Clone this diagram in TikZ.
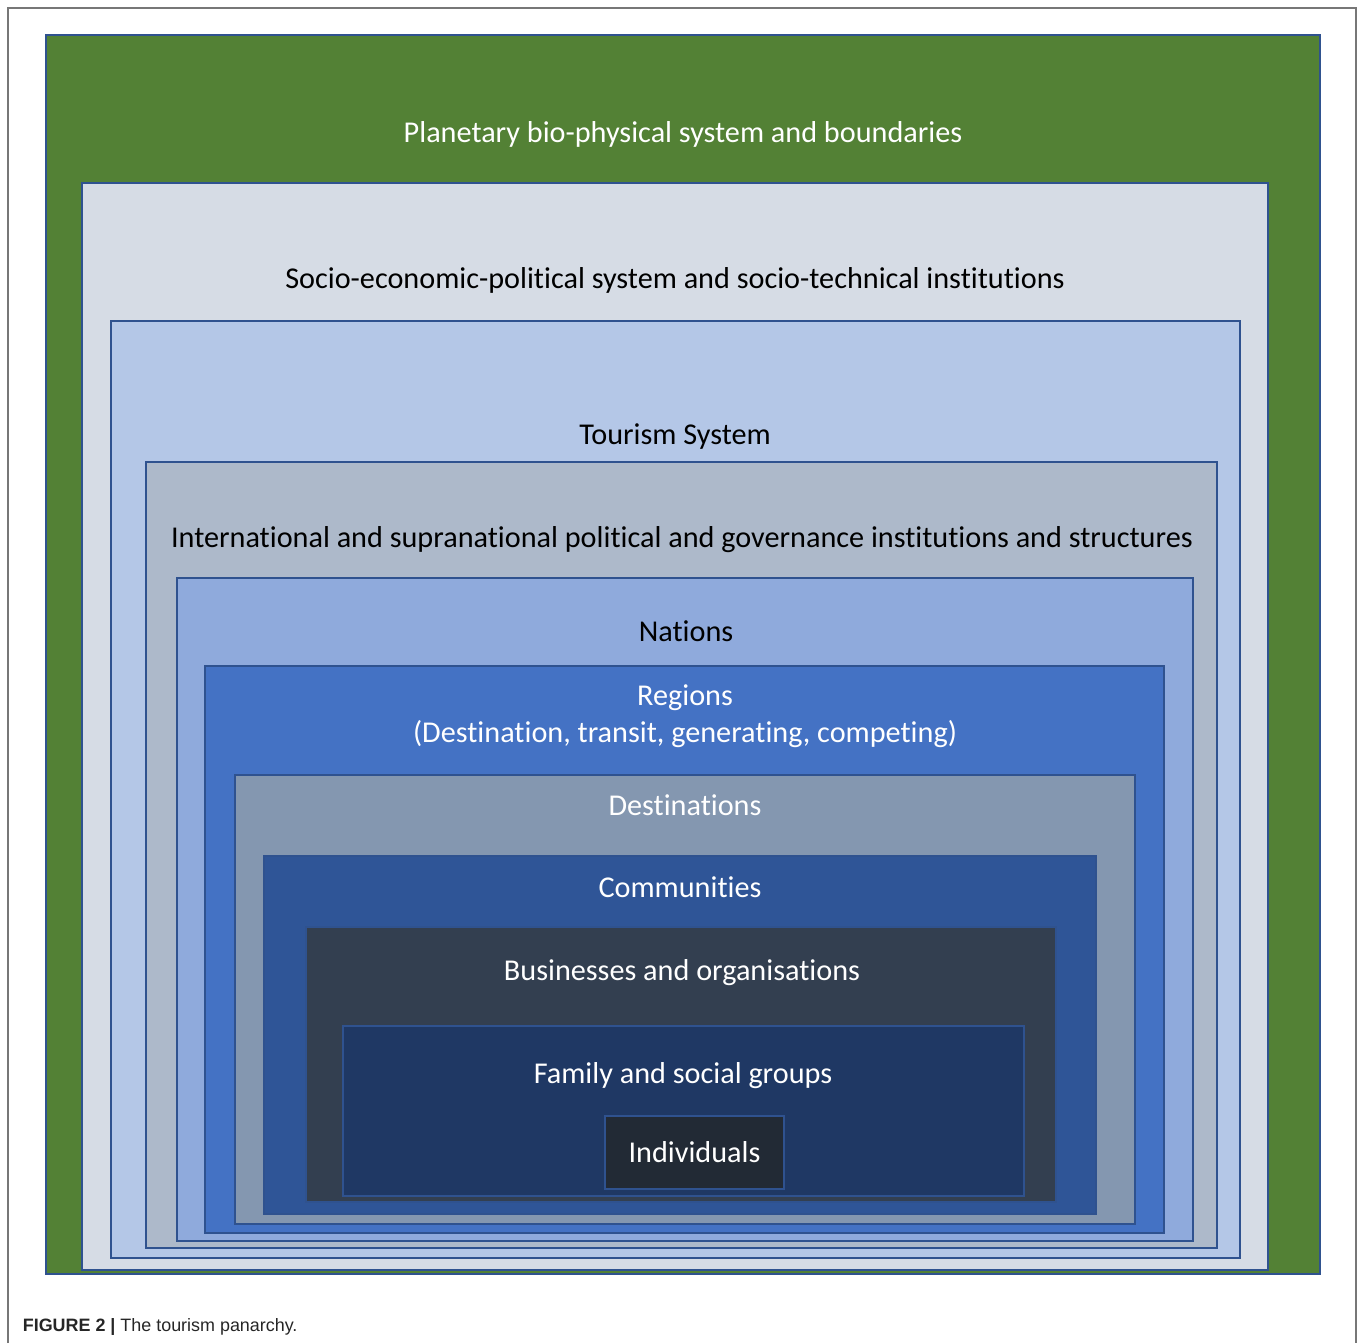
\documentclass[tikz,border=0pt]{standalone}
\usepackage{fontspec}
\setmainfont{Carlito}[Ligatures=NoCommon]
\newfontfamily\capfont{Liberation Sans}
\definecolor{planet}{HTML}{538135}
\definecolor{socio}{HTML}{D6DCE5}
\definecolor{tourism}{HTML}{B4C7E7}
\definecolor{intl}{HTML}{ADB9CA}
\definecolor{nations}{HTML}{8FAADC}
\definecolor{regions}{HTML}{4472C4}
\definecolor{dest}{HTML}{8497B0}
\definecolor{comm}{HTML}{2F5597}
\definecolor{biz}{HTML}{333F50}
\definecolor{family}{HTML}{1F3864}
\definecolor{indiv}{HTML}{222A35}
\definecolor{edge}{HTML}{2F528F}
\definecolor{framegray}{HTML}{777777}
\tikzset{
  layer/.style={draw=edge, line width=1.1pt},
  lbl/.style={inner sep=0pt, font=\fontsize{17.2}{21}\selectfont},
}

\begin{document}
\begin{tikzpicture}[x=0.02cm, y=-0.02cm]
\useasboundingbox (0,0) rectangle (1358,1343);
\draw[framegray, line width=1.2pt] (8,1343) -- (8,8) -- (1356,8) -- (1356,1343); % page frame
% nested layers, outermost first
\draw[layer, fill=planet] (46,35) rectangle (1320,1274);
\draw[layer, fill=socio] (82,183) rectangle (1268,1270);
\draw[layer, fill=tourism] (111,321) rectangle (1240,1258);
\draw[layer, fill=intl] (146,462) rectangle (1217,1248);
\draw[layer, fill=nations] (177,578) rectangle (1193,1241);
\draw[layer, fill=regions] (205,666) rectangle (1164,1233);
\draw[layer, fill=dest] (235,775) rectangle (1135,1224);
\draw[layer, fill=comm] (264,856) rectangle (1096,1214);
\draw[layer, fill=biz] (306,927) rectangle (1056,1202);
\draw[layer, fill=family] (343,1026) rectangle (1024,1196);
% labels
\node[lbl, text=white] (planetlbl) at (683,134) {Planetary bio-physical system and boundaries};
\node[lbl] (sociolbl) at (675,280) {Socio-economic-political system and socio-technical institutions};
\node[lbl] (tourismlbl) at (675,437) {Tourism System};
\node[lbl] (intllbl) at (682,540) {International and supranational political and governance institutions and structures};
\node[lbl] (nationslbl) at (686,631) {Nations};
\node[lbl, text=white, align=center, font=\fontsize{17.2}{21}\selectfont] (regionslbl) at (685,716) {Regions\\(Destination, transit, generating, competing)};
\node[lbl, text=white] (destlbl) at (685,805) {Destinations};
\node[lbl, text=white] (commlbl) at (680,887) {Communities};
\node[lbl, text=white] (bizlbl) at (682,973) {Businesses and organisations};
\node[lbl, text=white] (familylbl) at (683,1076) {Family and social groups};
\node[layer, lbl, text=white, fill=indiv, minimum width=3.58cm, minimum height=1.46cm] (indivbox) at (694.5,1152.5) {Individuals};
% caption
\node[anchor=base west, inner sep=0pt, font=\capfont\fontsize{10.2}{12}\selectfont, text=black!85] (caption) at (22.5,1331.5) {\textbf{FIGURE 2 |} The tourism panarchy.};
\end{tikzpicture}
\end{document}
